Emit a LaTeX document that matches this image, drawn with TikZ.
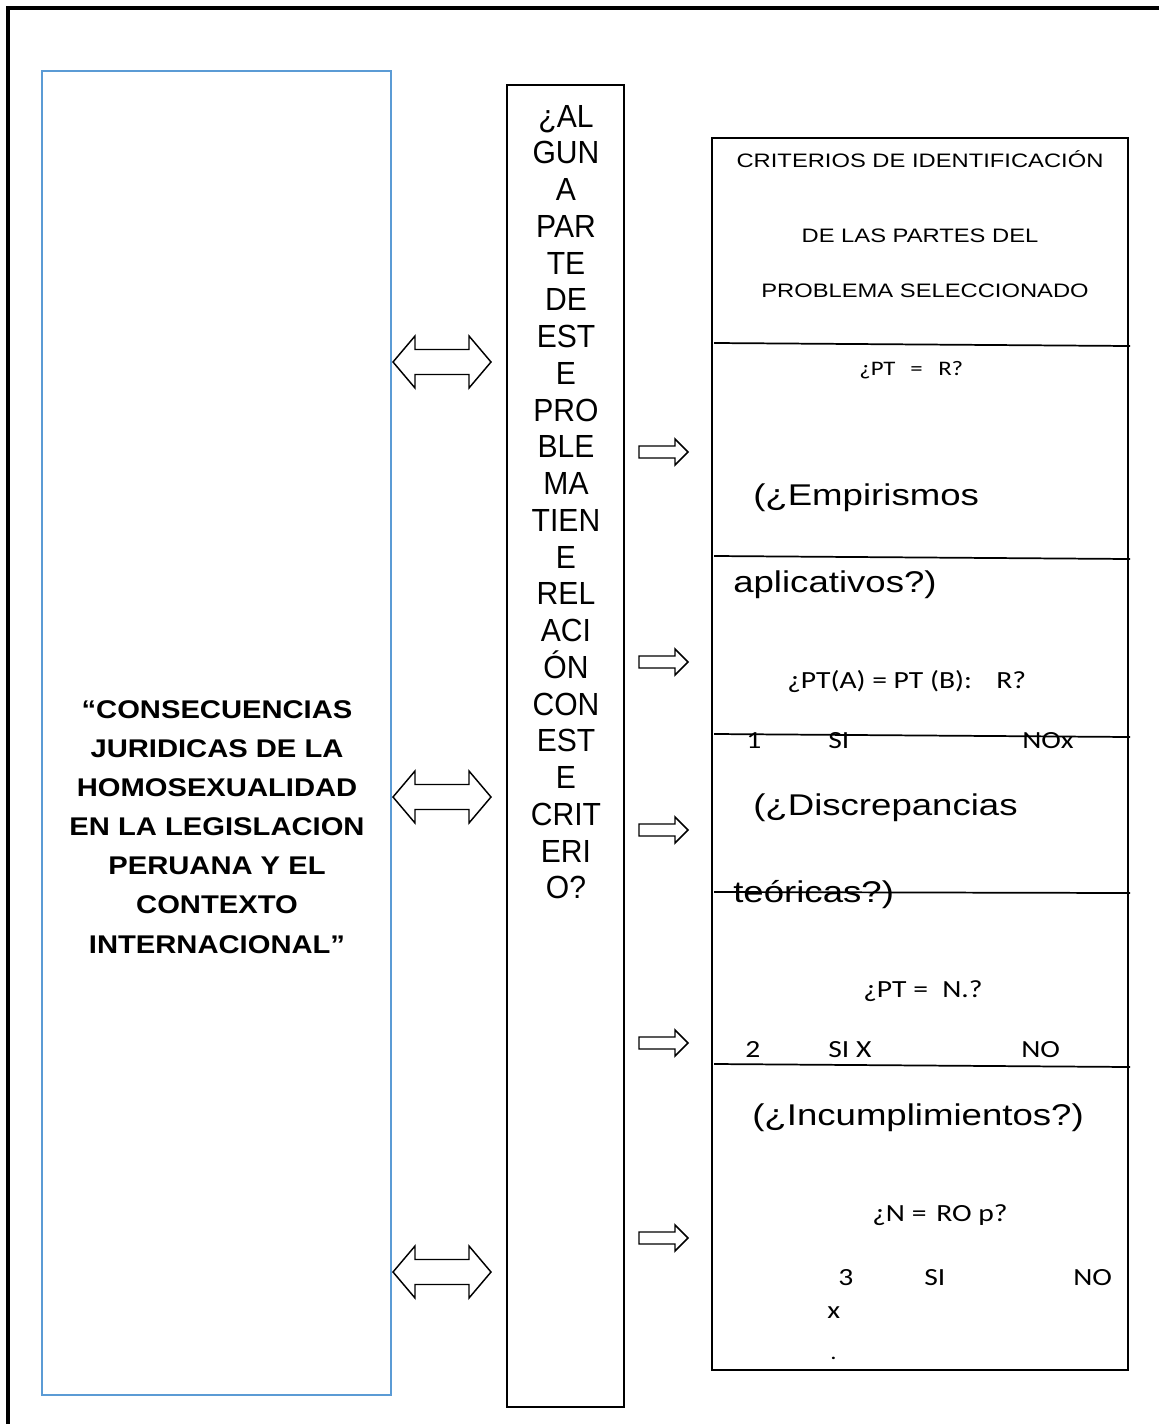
\documentclass[tikz,border=0pt]{standalone}
\usepackage{fontspec}
\setmainfont{Liberation Sans}
\newfontfamily\titlefont[FakeStretch=1.14]{Liberation Sans}
\newfontfamily\colfont[FakeStretch=0.94]{Liberation Sans}
\newfontfamily\boxfont[FakeStretch=1.22]{Liberation Sans}
\newfontfamily\calfont[FakeStretch=1.2]{Carlito}
\definecolor{boxblue}{RGB}{91,155,213}
\tikzset{
  frameline/.style={line width=3pt, black},
  bluebox/.style={draw=boxblue, line width=1.8pt, inner sep=0pt},
  midbox/.style={draw=black, line width=1.1pt, inner sep=0pt},
  critbox/.style={draw=black, line width=1.5pt, inner sep=0pt},
  rule/.style={line width=1.3pt, black},
  blockarrow/.style={draw=black, line width=1.1pt, fill=white, line join=miter},
  titletext/.style={font=\titlefont\bfseries\fontsize{19.2}{23}\selectfont, anchor=base, inner sep=0pt},
  coltext/.style={font=\colfont\fontsize{24}{28}\selectfont, anchor=base, inner sep=0pt},
  headtext/.style={font=\boxfont\fontsize{14.6}{17}\selectfont, anchor=base, inner sep=0pt},
  bigtext/.style={font=\boxfont\fontsize{22.5}{26}\selectfont, anchor=base west, inner sep=0pt},
  caltext/.style={font=\calfont\fontsize{18.5}{22}\selectfont, anchor=base west, inner sep=0pt},
  calsmall/.style={font=\calfont\fontsize{15.5}{18}\selectfont, anchor=base west, inner sep=0pt},
  dblarrow/.pic={\draw[blockarrow] (0,0) -- (22,-26) -- (22,-12.5) -- (76,-12.5) -- (76,-26) -- (98,0) -- (76,26) -- (76,12.5) -- (22,12.5) -- (22,26) -- cycle;},
  sglarrow/.pic={\draw[blockarrow] (0,-6) -- (36,-6) -- (36,-13) -- (49,0) -- (36,13) -- (36,6) -- (0,6) -- cycle;}
}
\begin{document}
\begin{tikzpicture}[x=0.75pt,y=-0.75pt]
\useasboundingbox (0,0) rectangle (1159,1424);
% outer frame (runs off right and bottom)
\draw[frameline] (8,1440) -- (8,8) -- (1175,8);

% boxes
\node[bluebox, minimum width=261.75pt, minimum height=993pt] (title) at (216.5,733) {};
\node[midbox, minimum width=87.75pt, minimum height=991.5pt] (question) at (565.5,746) {};
\node[critbox, minimum width=312pt, minimum height=924pt] (crit) at (920,754) {};

% title text
\foreach \t [count=\i from 0] in {“CONSECUENCIAS, JURIDICAS DE LA, HOMOSEXUALIDAD, EN LA LEGISLACION, PERUANA Y EL, CONTEXTO, INTERNACIONAL”}
  \node[titletext] (tl\i) at (217,{718+\i*39.17}) {\t};

% middle column text
\foreach \t [count=\i from 0] in {¿AL,GUN,A,PAR,TE,DE,EST,E,PRO,BLE,MA,TIEN,E,REL,ACI,ÓN,CON,EST,E,CRIT,ERI,O?}
  \node[coltext] (q\i) at (566,{127+\i*36.76}) {\t};

% double arrows
\pic (da1) at (393,362) {dblarrow};
\pic (da2) at (393,797) {dblarrow};
\pic (da3) at (393,1272) {dblarrow};

% single arrows
\pic (sa1) at (639,452) {sglarrow};
\pic (sa2) at (639,662) {sglarrow};
\pic (sa3) at (639,830) {sglarrow};
\pic (sa4) at (639,1043) {sglarrow};
\pic (sa5) at (639,1238) {sglarrow};

% header of criteria box
\node[headtext] (h1) at (920,167) {CRITERIOS DE IDENTIFICACIÓN};
\node[headtext] (h2) at (920,242) {DE LAS PARTES DEL};
\node[headtext] (h3) at (925,297) {PROBLEMA SELECCIONADO};

% rules inside criteria box
\draw[rule] (714,343) -- (1130,346);
\draw[rule] (714,556) -- (1130,559);
\draw[rule] (714,734) -- (1130,737);
\draw[rule] (714,892) -- (1130,893);
\draw[rule] (714,1064) -- (1130,1067);

% section 1
\node[calsmall] (r1a) at (859,375) {¿PT};
\node[calsmall] (r1b) at (910,375) {=};
\node[calsmall] (r1c) at (938,375) {R?};
\node[bigtext] (emp1) at (753,505) {(¿Empirismos};
\node[bigtext] (emp2) at (733,592) {aplicativos?)};
\node[caltext] (r2a) at (787,688) {¿PT(A) = PT (B):};
\node[caltext] (r2b) at (996,688) {R?};
\node[caltext] (r3a) at (746,748) {1};
\node[caltext] (r3b) at (828,748) {SI};
\node[caltext] (r3c) at (1022,748) {NOx};

% section 2
\node[bigtext] (dis1) at (753,815) {(¿Discrepancias};
\node[bigtext] (dis2) at (733,902) {teóricas?)};
\node[caltext] (r4a) at (863,997) {¿PT};
\node[caltext] (r4b) at (913,997) {=};
\node[caltext] (r4c) at (942,997) {N.?};
\node[caltext] (r5a) at (745,1057) {2};
\node[caltext] (r5b) at (828,1057) {SI X};
\node[caltext] (r5c) at (1021,1057) {NO};

% section 3
\node[bigtext] (inc) at (752,1125) {(¿Incumplimientos?)};
\node[caltext] (r6a) at (872,1221) {¿N =};
\node[caltext] (r6b) at (936,1221) {RO p?};
\node[caltext] (r7a) at (838,1285) {3};
\node[caltext] (r7b) at (924,1285) {SI};
\node[caltext] (r7c) at (1073,1285) {NO};
\node[caltext] (r8) at (827,1318) {x};
\node[calsmall] (r9) at (830,1359) {.};
\end{tikzpicture}
\end{document}
